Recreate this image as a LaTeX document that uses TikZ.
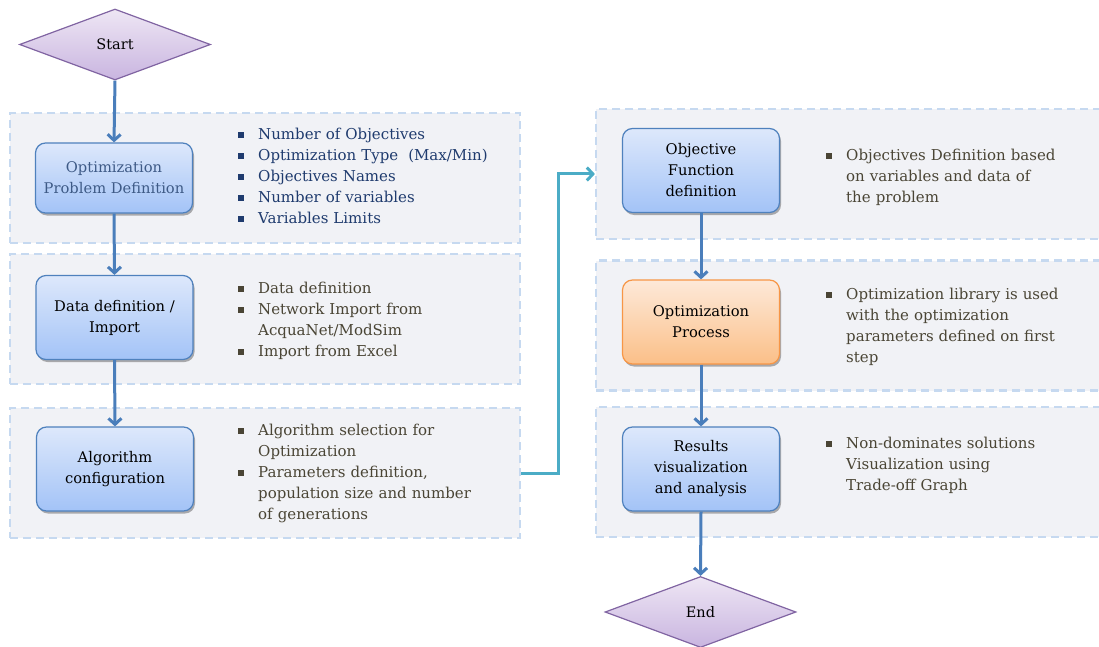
\documentclass[tikz,border=0pt]{standalone}
\usepackage{fontspec}
\setmainfont{DejaVu Serif}
\usetikzlibrary{shapes.geometric,arrows.meta,shadows}

\definecolor{panelfill}{HTML}{F1F2F6}
\definecolor{paneledge}{HTML}{C6D9F0}
\definecolor{flowblue}{HTML}{4A7EBB}
\definecolor{boxtop}{HTML}{DDE8FB}
\definecolor{boxbot}{HTML}{A3C3F7}
\definecolor{boxedge}{HTML}{4F81BD}
\definecolor{oratop}{HTML}{FDE9D9}
\definecolor{orabot}{HTML}{FBBF88}
\definecolor{oraedge}{HTML}{F79646}
\definecolor{diatop}{HTML}{EEE6F4}
\definecolor{diabot}{HTML}{C9B5E0}
\definecolor{diaedge}{HTML}{8064A2}
\definecolor{navytext}{HTML}{1F3B6E}
\definecolor{olivetext}{HTML}{4A4535}
\definecolor{slatetext}{HTML}{3E5A86}
\definecolor{linkcyan}{HTML}{4BACC6}

% bullet item with a small square marker and hanging indent
\newcommand\bitem[1]{\hangindent=20pt\hangafter=1\noindent\makebox[20pt][l]{\rule[1.4pt]{5.5pt}{5.5pt}}#1\par}

\begin{document}
\begin{tikzpicture}[x=1pt,y=-1pt,
  txt/.style={font=\fontsize{14.7}{21}\selectfont},
  panel/.style={draw=paneledge, fill=panelfill, dashed, dash pattern=on 8pt off 5pt,
    line width=2.2pt, minimum width=#1, minimum height=130pt, inner sep=0pt},
  flowbox/.style={rounded corners=10pt, draw=boxedge, line width=1.2pt,
    top color=boxtop, bottom color=boxbot, minimum width=157pt, minimum height=84pt,
    align=center, txt, inner sep=2pt,
    drop shadow={shadow xshift=1.5pt, shadow yshift=-2.5pt, opacity=.3, fill=black}},
  orangebox/.style={flowbox, draw=oraedge, top color=oratop, bottom color=orabot},
  terminal/.style={diamond, draw=diaedge, line width=1.2pt, top color=diatop,
    bottom color=diabot, minimum width=191pt, minimum height=71pt, inner sep=0pt,
    font=\fontsize{14.5}{21}\selectfont},
  bullets/.style={anchor=north west, inner sep=0pt, text width=#1,
    font=\fontsize{15}{21}\selectfont, execute at begin node={\raggedright}},
  flow/.style={draw=flowblue, line width=3pt,
    -{Straight Barb[length=6pt,width=13pt]}},
  link/.style={draw=linkcyan, line width=3pt,
    -{Straight Barb[length=6pt,width=13pt]}}
]
\useasboundingbox (0,0) rectangle (1099,647);
\clip (0,0) rectangle (1099,647);

% background panels
\node[panel=510pt] (p1) at (265,178) {};
\node[panel=510pt] (p2) at (265,319) {};
\node[panel=510pt] (p3) at (265,473) {};
\node[panel=506pt] (p4) at (849,174) {};
\node[panel=506pt] (p5) at (849,325.5) {};
\node[panel=506pt] (p6) at (849,472) {};

% terminals
\node[terminal] (start) at (115,44.5) {Start};
\node[terminal] (end) at (700.5,612) {End};

% process boxes
\node[flowbox, minimum height=70pt, text=slatetext] (b1) at (114,178) {Optimization\\Problem Definition};
\node[flowbox] (b2) at (114.5,317.5) {Data definition /\\Import};
\node[flowbox] (b3) at (115,469) {Algorithm\\configuration};
\node[flowbox] (b4) at (701,170.5) {Objective\\Function\\definition};
\node[orangebox] (b5) at (701,322) {Optimization\\Process};
\node[flowbox] (b6) at (701,469) {Results\\visualization\\and analysis};

% bullet lists
\node[bullets=270pt, text=navytext] (l1) at (238,127.5) {%
  \bitem{Number of Objectives}\bitem{Optimization Type~ (Max/Min)}%
  \bitem{Objectives Names}\bitem{Number of variables}\bitem{Variables Limits}};
\node[bullets=270pt, text=olivetext] (l2) at (238,281.5) {%
  \bitem{Data definition}\bitem{Network Import from\newline AcquaNet/ModSim}%
  \bitem{Import from Excel}};
\node[bullets=270pt, text=olivetext] (l3) at (238,423.5) {%
  \bitem{Algorithm selection for\newline Optimization}%
  \bitem{Parameters definition,\newline population size and number\newline of generations}};
\node[bullets=270pt, text=olivetext] (l4) at (826,148.5) {%
  \bitem{Objectives Definition based\newline on variables and data of\newline the problem}};
\node[bullets=270pt, text=olivetext] (l5) at (826,287.5) {%
  \bitem{Optimization library is used\newline with the optimization\newline parameters defined on first\newline step}};
\node[bullets=270pt, text=olivetext] (l6) at (826,436.5) {%
  \bitem{Non-dominates solutions\newline Visualization using\newline Trade-off Graph}};

% connectors
\draw[flow] (start.south) -- (b1.north);
\draw[flow] (b1.south) -- (b2.north);
\draw[flow] (b2.south) -- (b3.north);
\draw[flow] (b4.south) -- (b5.north);
\draw[flow] (b5.south) -- (b6.north);
\draw[flow] (b6.south) -- (end.north);
\draw[link] (p3.east) -- ++(37,0) |- (p4.west);
\end{tikzpicture}
\end{document}
